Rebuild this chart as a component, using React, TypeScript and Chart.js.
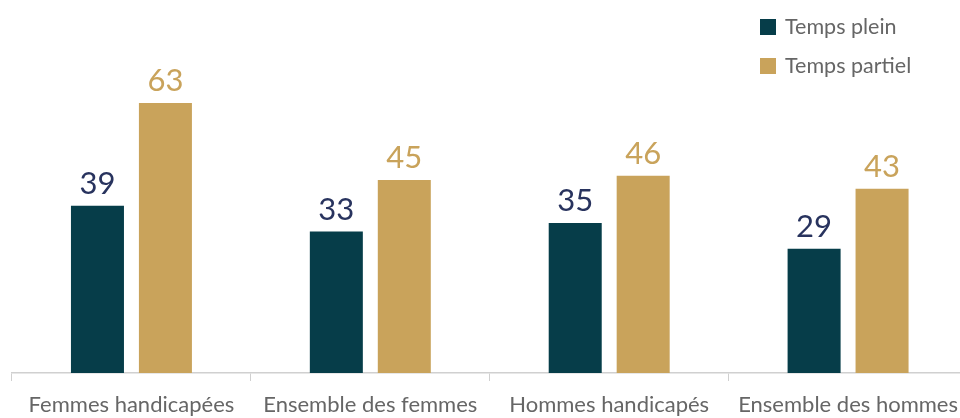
import React, { useEffect, useRef } from "react";
import { Chart, registerables } from "chart.js";

Chart.register(...registerables);

const categories = ["Femmes handicapées", "Ensemble des femmes", "Hommes handicapés", "Ensemble des hommes"];
const seriesNames = ["Temps plein", "Temps partiel"];
const tempsPlein = [39, 33, 35, 29];
const tempsPartiel = [63, 45, 46, 43];

const DARK = "#063d49";
const GOLD = "#c9a35b";
const DARK_LABEL = "#28335e";
const FONT = "Lato, 'Open Sans', sans-serif";

const valueLabels = {
  id: "valueLabels",
  afterDatasetsDraw(chart: any) {
    const ctx = chart.ctx;
    ctx.save();
    ctx.font = `31px ${FONT}`;
    ctx.textAlign = "center";
    ctx.textBaseline = "alphabetic";
    chart.data.datasets.forEach((ds: any, di: number) => {
      const meta = chart.getDatasetMeta(di);
      ctx.fillStyle = di === 0 ? DARK_LABEL : GOLD;
      meta.data.forEach((bar: any, i: number) => {
        ctx.fillText(String(ds.data[i]), bar.x, bar.y - 12);
      });
    });
    ctx.restore();
  },
};

const customLegend = {
  id: "customLegend",
  afterDraw(chart: any) {
    const ctx = chart.ctx;
    ctx.save();
    const colors = [DARK, GOLD];
    const ys = [27, 66];
    ctx.font = `21.5px ${FONT}`;
    ctx.textBaseline = "middle";
    ctx.textAlign = "left";
    seriesNames.forEach((name, i) => {
      ctx.fillStyle = colors[i];
      ctx.fillRect(760, ys[i] - 8, 16, 16);
      ctx.fillStyle = "#666666";
      ctx.fillText(name, 785, ys[i]);
    });
    ctx.restore();
  },
};

export default function App() {
  const ref = useRef<HTMLCanvasElement>(null);
  useEffect(() => {
    if (!ref.current) return;
    const chart = new Chart(ref.current, {
      type: "bar",
      data: {
        labels: categories,
        datasets: [
          { label: seriesNames[0], data: tempsPlein, backgroundColor: DARK },
          { label: seriesNames[1], data: tempsPartiel, backgroundColor: GOLD },
        ],
      },
      options: {
        responsive: true,
        maintainAspectRatio: false,
        animation: false,
        datasets: { bar: { categoryPercentage: 0.569, barPercentage: 0.78 } },
        layout: { padding: { left: 12, top: 30, right: 0, bottom: 0 } },
        plugins: { legend: { display: false }, tooltip: { enabled: false } },
        scales: {
          x: {
            afterFit: (scale: any) => {
              scale.height = 45;
            },
            grid: {
              offset: true,
              drawOnChartArea: false,
              drawTicks: true,
              tickLength: 8,
              color: "#d0d0d0",
            },
            border: { display: true, color: "#d0d0d0", width: 1.5 },
            ticks: {
              color: "#666666",
              padding: 11,
              maxRotation: 0,
              autoSkip: false,
              font: { family: FONT, size: 22 },
            },
          },
          y: { display: false, min: 0, max: 80 },
        },
      },
      plugins: [valueLabels, customLegend],
    });
    return () => chart.destroy();
  }, []);
  return (
    <div style={{ position: "fixed", left: 0, top: 0, width: 969, height: 418 }}>
      <canvas ref={ref} />
    </div>
  );
}
